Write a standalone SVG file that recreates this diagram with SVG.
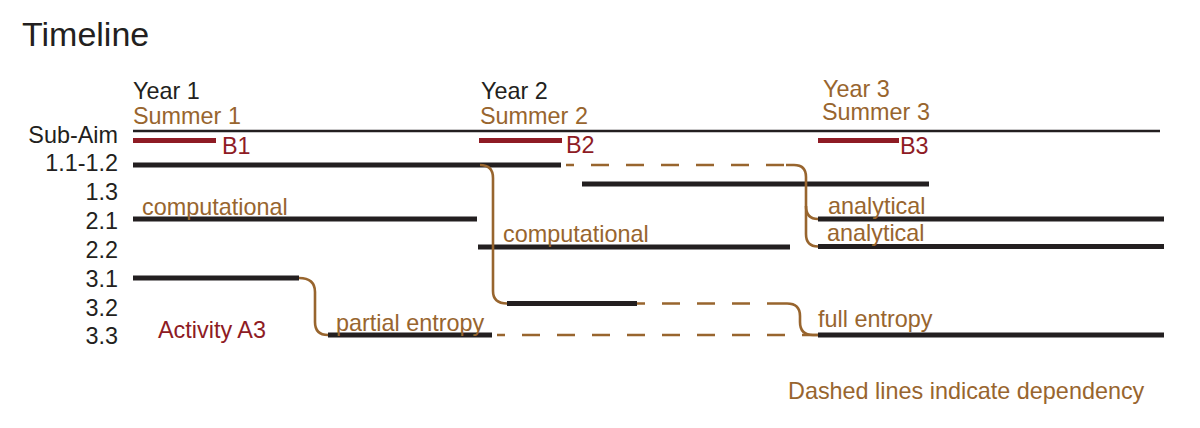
<svg xmlns="http://www.w3.org/2000/svg" width="1200" height="428" viewBox="0 0 1200 428">
<style>
text{font-family:"Liberation Sans",Arial,sans-serif;font-size:23.4px;fill:#231f20}
.title{font-size:34px}
.br{fill:#98652e}
.rd{fill:#8e1b24}
.lbl{text-anchor:end}
.bar{stroke:#231f20;stroke-width:5;fill:none}
.rbar{stroke:#8e1b24;stroke-width:5;fill:none}
.axis{stroke:#231f20;stroke-width:2.5;fill:none}
.dep{stroke:#98652e;stroke-width:2.6;fill:none}
.dash{stroke-dasharray:18 17}
</style>
<rect width="1200" height="428" fill="#ffffff"/>
<text class="title" x="22" y="46">Timeline</text>

<g id="header">
<text x="133" y="99">Year 1</text>
<text class="br" x="133" y="124">Summer 1</text>
<text x="481" y="99">Year 2</text>
<text class="br" x="480" y="124">Summer 2</text>
<text class="br" x="823" y="97">Year 3</text>
<text class="br" x="822" y="120">Summer 3</text>
</g>

<g id="row-subaim">
<text class="lbl" x="118" y="143">Sub-Aim</text>
<line class="axis" x1="133" y1="131" x2="1160" y2="131"/>
<line class="rbar" x1="133" y1="140.5" x2="216" y2="140.5"/>
<text class="rd" x="222" y="154">B1</text>
<line class="rbar" x1="479" y1="140.5" x2="562" y2="140.5"/>
<text class="rd" x="566" y="153">B2</text>
<line class="rbar" x1="818" y1="140.5" x2="899" y2="140.5"/>
<text class="rd" x="900" y="154">B3</text>
</g>

<g id="row-1-1">
<text class="lbl" x="118" y="171">1.1-1.2</text>
<line class="bar" x1="133" y1="165" x2="561" y2="165"/>
</g>

<g id="row-1-3">
<text class="lbl" x="118" y="200">1.3</text>
<line class="bar" x1="582" y1="184" x2="929" y2="184"/>
</g>

<g id="row-2-1">
<text class="lbl" x="118" y="229">2.1</text>
<line class="bar" x1="133" y1="219" x2="477" y2="219"/>
<text class="br" x="142" y="215">computational</text>
<line class="bar" x1="818" y1="219" x2="1164" y2="219"/>
<text class="br" x="828" y="214">analytical</text>
</g>

<g id="row-2-2">
<text class="lbl" x="118" y="258">2.2</text>
<line class="bar" x1="478" y1="247" x2="790" y2="247"/>
<text class="br" x="503" y="242">computational</text>
<line class="bar" x1="818" y1="246.5" x2="1164" y2="246.5"/>
<text class="br" x="827" y="241">analytical</text>
</g>

<g id="row-3-1">
<text class="lbl" x="118" y="287">3.1</text>
<line class="bar" x1="133" y1="278" x2="299" y2="278"/>
</g>

<g id="row-3-2">
<text class="lbl" x="118" y="316">3.2</text>
<line class="bar" x1="507" y1="303.5" x2="637" y2="303.5"/>
</g>

<g id="row-3-3">
<text class="lbl" x="118" y="344">3.3</text>
<line class="bar" x1="328" y1="335" x2="492" y2="335"/>
<text class="br" x="336" y="331">partial entropy</text>
<line class="bar" x1="818" y1="335" x2="1164" y2="335"/>
<text class="br" x="818" y="327">full entropy</text>
</g>

<g id="notes">
<text class="rd" x="158" y="338">Activity A3</text>
<text class="br" x="788" y="399">Dashed lines indicate dependency</text>
</g>

<g id="connectors">
<path class="dep dash" d="M566 165 L786 165" stroke-dashoffset="10"/>
<path class="dep" d="M786 165 L794 165 Q806 165 806 177 L806 234 Q806 246.5 818 246.5"/>
<path class="dep" d="M806 206 Q806 219 818 219"/>
<path class="dep" d="M480 165 Q493 165 493 178 L493 291 Q493 303.5 507 303.5"/>
<path class="dep" d="M299 278 Q315 278 315 292 L315 322 Q315 335 328 335"/>
<path class="dep dash" d="M637 303.5 L778 303.5" stroke-dashoffset="10"/>
<path class="dep" d="M778 303.5 L787 303.5 Q800 303.5 800 316 L800 322 Q800 335 813 335 L818 335"/>
<path class="dep dash" d="M497 335 L818 335" stroke-dashoffset="10"/>
</g>
</svg>
